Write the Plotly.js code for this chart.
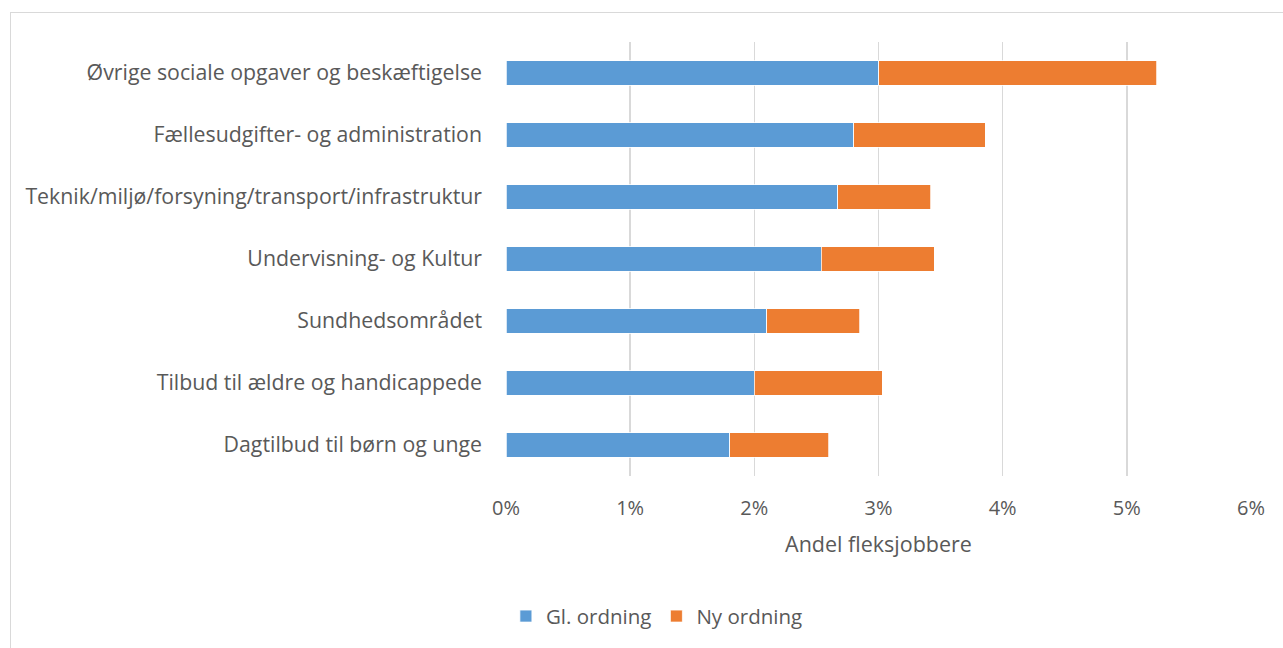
<!DOCTYPE html>
<html>
<head>
<meta charset="utf-8">
<script src="https://cdn.plot.ly/plotly-3.0.1.min.js"></script>
<style>
  body { margin: 0; background: #fff; }
  #frame { position: absolute; left: 10px; top: 12px; width: 1400px; height: 800px; border: 1px solid #d9d9d9; }
  #plot { position: absolute; left: 0; top: 0; width: 1283px; height: 648px; }
</style>
</head>
<body>
<div id="frame"></div>
<div id="plot"></div>
<script>
// categories, top to bottom as shown
var omraader = [
    "Øvrige sociale opgaver og beskæftigelse",
    "Fællesudgifter- og administration",
    "Teknik/miljø/forsyning/transport/infrastruktur",
    "Undervisning- og Kultur",
    "Sundhedsområdet",
    "Tilbud til ældre og handicappede",
    "Dagtilbud til børn og unge"
];

// andel fleksjobbere (fraction)
var glOrdning = [0.0300, 0.0280, 0.0267, 0.0254, 0.0210, 0.0200, 0.0180];
var nyOrdning = [0.0224, 0.0106, 0.0075, 0.0091, 0.0075, 0.0103, 0.0080];

var tickVals = [0, 0.01, 0.02, 0.03, 0.04, 0.05, 0.06];
var tickText = ["0%", "1%", "2%", "3%", "4%", "5%", "6%"];

var font = "'Open Sans', sans-serif";

var trace1 = {
    y: omraader,
    x: glOrdning,
    name: "Gl. ordning",
    type: "bar",
    orientation: "h",
    marker: { color: "#5b9bd5", line: { color: "#ffffff", width: 0.75 } }
};

var trace2 = {
    y: omraader,
    x: nyOrdning,
    name: "Ny ordning",
    type: "bar",
    orientation: "h",
    marker: { color: "#ed7d31", line: { color: "#ffffff", width: 0.75 } }
};

var layout = {
    width: 1283,
    height: 648,
    paper_bgcolor: "rgba(0,0,0,0)",
    plot_bgcolor: "rgba(0,0,0,0)",
    barmode: "stack",
    bargap: 0.61,
    hovermode: false,
    margin: { l: 506, r: 32, t: 42, b: 172 },
    font: { family: font, color: "#595959", size: 20 },
    xaxis: {
        range: [0, 0.06],
        tickvals: tickVals,
        ticktext: tickText,
        showgrid: true,
        gridcolor: "#d9d9d9",
        gridwidth: 1.5,
        zeroline: false,
        showline: false,
        ticks: "",
        ticklabelstandoff: 18,
        tickfont: { size: 20, color: "#595959" },
        title: { text: "Andel fleksjobbere", font: { size: 21.5, color: "#595959" }, standoff: 16 },
        automargin: false
    },
    yaxis: {
        autorange: "reversed",
        showgrid: false,
        zeroline: false,
        showline: false,
        ticks: "",
        ticklabelstandoff: 23,
        tickfont: { size: 21.3, color: "#595959" },
        automargin: false
    },
    legend: {
        orientation: "h",
        xref: "container",
        yref: "container",
        x: 0.512,
        xanchor: "center",
        y: 0.049,
        yanchor: "middle",
        font: { size: 20.5, color: "#595959" },
        traceorder: "normal",
        itemwidth: 30
    },
    showlegend: true
};

Plotly.newPlot("plot", [trace1, trace2], layout, { displayModeBar: false, staticPlot: true });
</script>
</body>
</html>
